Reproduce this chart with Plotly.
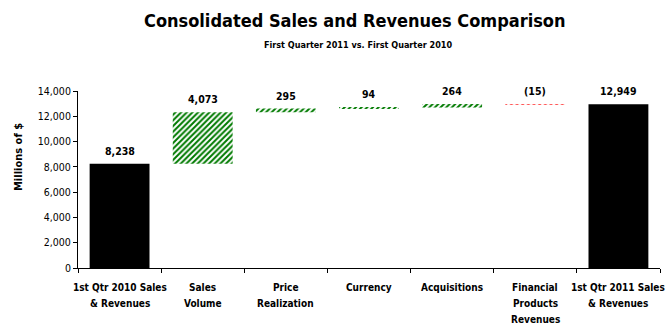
import plotly.graph_objects as go

categories = [
    "1st Qtr 2010 Sales<br>& Revenues",
    "Sales<br>Volume",
    "Price<br>Realization",
    "Currency",
    "Acquisitions",
    "Financial<br>Products<br>Revenues",
    "1st Qtr 2011 Sales<br>& Revenues",
]
start_total = 8238
changes = [4073, 295, 94, 264, -15]
end_total = 12949
value_labels = ["8,238", "4,073", "295", "94", "264", "(15)", "12,949"]

FONT = "DejaVu Sans Condensed, Liberation Sans Narrow, sans-serif"

# running waterfall levels
bases, heights = [], []
level = start_total
for c in changes:
    if c >= 0:
        bases.append(level)
        heights.append(c)
    else:
        bases.append(level + c)
        heights.append(-c)
    level += c

tops = [start_total] + [b + h for b, h in zip(bases, heights)] + [end_total]

fig = go.Figure()

# totals: solid black
fig.add_trace(go.Bar(
    x=[categories[0], categories[-1]],
    y=[start_total, end_total],
    marker=dict(color="black", line=dict(width=0)),
    width=0.72,
    hoverinfo="skip",
))

# changes: hatched floating bars
inc_color = "#007a00"
dec_color = "#ff5050"
colors = [inc_color if c >= 0 else dec_color for c in changes]
fig.add_trace(go.Bar(
    x=categories[1:-1],
    y=heights,
    base=bases,
    width=0.72,
    marker=dict(
        color="white",
        line=dict(width=0),
        pattern=dict(shape="/", fgcolor=colors, bgcolor="white", fgopacity=1,
                     size=4, solidity=0.5),
    ),
    hoverinfo="skip",
))

for cat, top, lab in zip(categories, tops, value_labels):
    fig.add_annotation(
        x=cat, y=top, text=f"<b>{lab}</b>", showarrow=False,
        yshift=13, font=dict(family=FONT, size=10.5, color="black"),
    )

# paper y=1 is the top of the plot area, y=0 the baseline
def paper_y(px):
    return (268 - px) / 177

# category labels, one line at a time for wider line spacing
for cat in categories:
    for i, line in enumerate(cat.split("<br>")):
        fig.add_annotation(
            x=cat, xref="x", yref="paper", y=paper_y(287 + 16 * i), yanchor="middle",
            text=f"<b>{line}</b>", showarrow=False,
            font=dict(family=FONT, size=10, color="black"),
        )

PLOT_W = 672 - 78 - 12

fig.add_annotation(
    xref="paper", yref="paper", x=(355 - 78) / PLOT_W, y=paper_y(20), yanchor="middle",
    text="<b>Consolidated Sales and Revenues Comparison</b>", showarrow=False,
    font=dict(family=FONT, size=18, color="black"),
)
fig.add_annotation(
    xref="paper", yref="paper", x=(358 - 78) / PLOT_W, y=paper_y(45), yanchor="middle",
    text="<b>First Quarter 2011 vs. First Quarter 2010</b>", showarrow=False,
    font=dict(family=FONT, size=9, color="black"),
)
fig.add_annotation(
    xref="paper", yref="paper", x=-60 / PLOT_W, xanchor="center",
    y=paper_y(157), yanchor="middle", textangle=-90,
    text="<b>Millions of $</b>", showarrow=False,
    font=dict(family=FONT, size=11, color="black"),
)

fig.update_layout(
    width=672, height=325,
    margin=dict(l=78, r=12, t=91, b=57),
    paper_bgcolor="white", plot_bgcolor="white",
    showlegend=False,
    barmode="overlay",
    font=dict(family=FONT, color="black"),
    xaxis=dict(
        type="category",
        categoryorder="array", categoryarray=categories,
        range=[-0.5, len(categories) - 0.5], autorange=False,
        showline=True, linecolor="black", linewidth=1,
        ticks="outside", tickson="boundaries", ticklen=4, tickcolor="black",
        showticklabels=False,
        showgrid=False,
    ),
    yaxis=dict(
        range=[0, 14000],
        tickvals=list(range(0, 14001, 2000)),
        tickformat=",d",
        showline=True, linecolor="black", linewidth=1,
        ticks="outside", ticklen=4, tickcolor="black",
        tickfont=dict(family=FONT, size=10.5, color="black"),
        showgrid=False, zeroline=False,
    ),
)

fig.write_html("out.html")
